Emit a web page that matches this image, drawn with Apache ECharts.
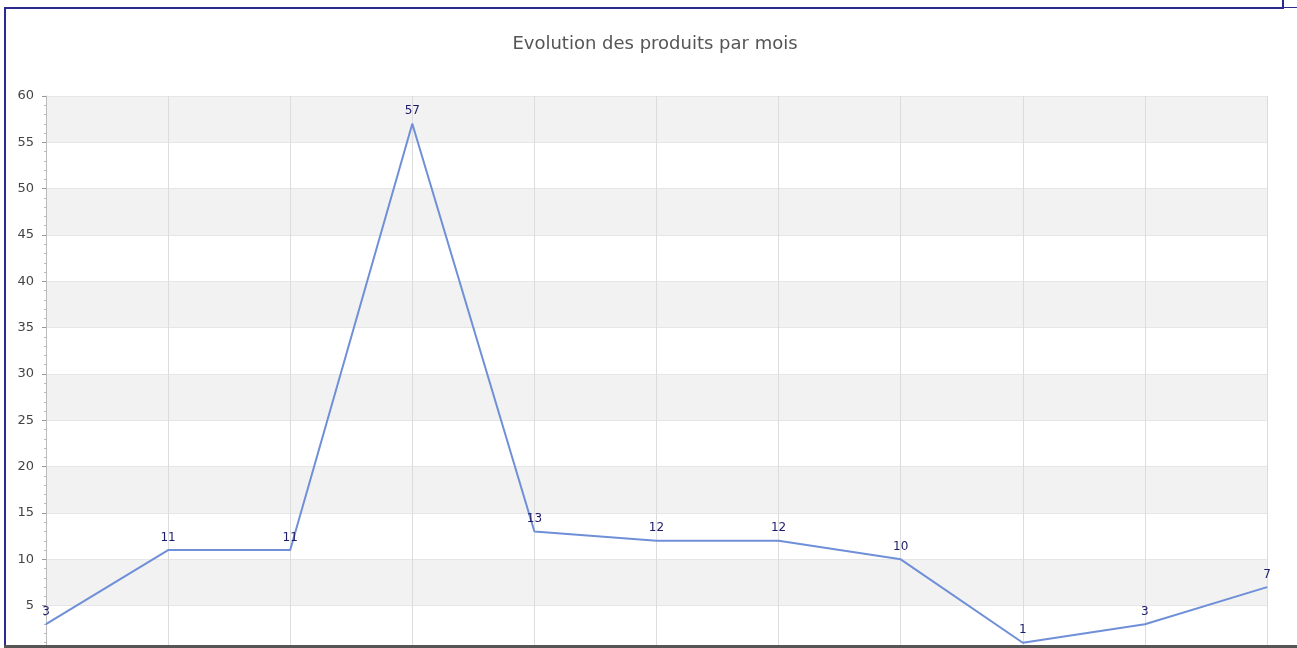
<!DOCTYPE html>
<html><head><meta charset="utf-8">
<script src="https://cdn.jsdelivr.net/npm/echarts@6/dist/echarts.min.js"></script>
<style>html,body{margin:0;padding:0;background:#fff;overflow:hidden;}#c{width:1297px;height:664px;}</style>
</head><body><div id="c"></div>
<script>
const titleText = 'Evolution des produits par mois';
const categories = ['Janvier','Février','Mars','Avril','Mai','Juin','Juillet','Août','Septembre','Octobre','Novembre'];
const values = [3, 11, 11, 57, 13, 12, 12, 10, 1, 3, 7];
const yTicks = [0, 5, 10, 15, 20, 25, 30, 35, 40, 45, 50, 55, 60];

const chart = echarts.init(document.getElementById('c'));
chart.setOption({
  animation: false,
  backgroundColor: '#fff',
  title: {
    text: titleText, left: 650, top: 30, textAlign: 'center',
    textStyle: { color: '#555', fontSize: 18, fontWeight: 'normal', fontFamily: 'DejaVu Sans' }
  },
  grid: { left: 46, right: 30, top: 96, bottom: 12 },
  xAxis: {
    type: 'category', data: categories, boundaryGap: false,
    axisLine: { show: true, lineStyle: { color: '#999' } },
    axisTick: { show: false }, axisLabel: { show: false },
    splitLine: { show: true, interval: 0, lineStyle: { color: '#dcdcdc', width: 1 } }
  },
  yAxis: {
    type: 'value', min: yTicks[0], max: yTicks[yTicks.length - 1], interval: 5,
    axisLine: { show: true, lineStyle: { color: '#bbb' } },
    axisTick: { show: true, length: 4, lineStyle: { color: '#999' } },
    minorTick: { show: true, splitNumber: 5, length: 2, lineStyle: { color: '#bbb' } },
    axisLabel: { color: '#444', fontSize: 13, margin: 12, fontFamily: 'DejaVu Sans',
      formatter: v => v === 0 ? '' : String(v) },
    splitLine: { show: true, lineStyle: { color: '#e6e6e6' } },
    splitArea: { show: true, areaStyle: { color: ['#ffffff', '#f2f2f2'] } }
  },
  series: [{
    type: 'line', data: values, showSymbol: true, symbol: 'circle', symbolSize: 1,
    itemStyle: { color: '#6f8fd8' },
    lineStyle: { color: '#6f8fd8', width: 2 },
    label: { show: true, position: 'top', distance: 6, color: '#1c1c6a', fontSize: 12, fontFamily: 'DejaVu Sans' }
  }],
  graphic: [
    { type: 'rect', shape: { x: 4, y: 7, width: 1280, height: 2 }, style: { fill: '#2b2b8f' }, z: 100 },
    { type: 'rect', shape: { x: 4, y: 7, width: 2, height: 641 }, style: { fill: '#2b2b8f' }, z: 100 },
    { type: 'rect', shape: { x: 1282, y: 0, width: 2, height: 9 }, style: { fill: '#2b2b8f' }, z: 100 },
    { type: 'rect', shape: { x: 1284, y: 7, width: 13, height: 1 }, style: { fill: '#2b2b8f' }, z: 100 },
    { type: 'rect', shape: { x: 4, y: 645, width: 1293, height: 3 }, style: { fill: '#555' }, z: 100 }
  ]
});
</script></body></html>
